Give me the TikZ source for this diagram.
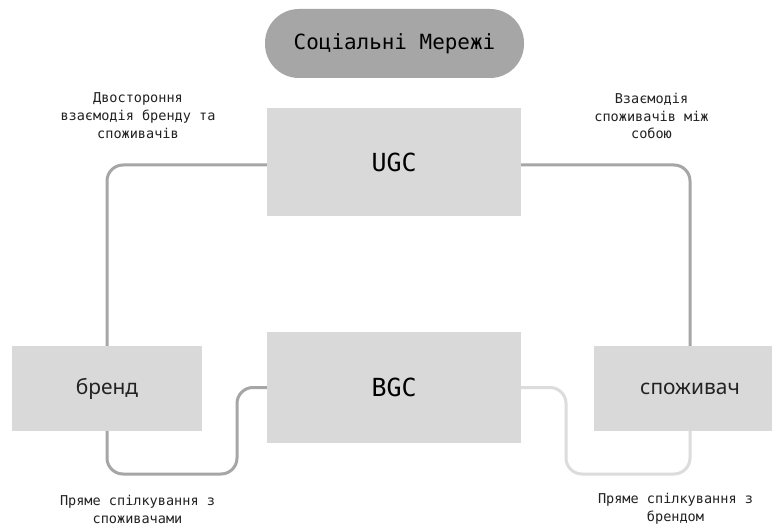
\documentclass[tikz,border=0pt]{standalone}
\usepackage{fontspec}
\setmainfont{DejaVu Sans Mono}
\newfontfamily\monof{DejaVu Sans Mono}
\newfontfamily\sansf{Noto Sans}
\definecolor{pillgray}{HTML}{A6A6A6}
\definecolor{boxgray}{HTML}{D9D9D9}
\definecolor{linedark}{HTML}{A6A6A6}
\definecolor{linelight}{HTML}{DCDCDC}
\definecolor{txt}{HTML}{222222}
\begin{document}
\begin{tikzpicture}[x=1bp,y=-1bp,
  boxnode/.style={fill=boxgray, draw=none, inner sep=0pt},
  pillnode/.style={fill=pillgray, draw=none, inner sep=0pt, rounded corners=34bp,
     minimum width=259bp, minimum height=69bp, font=\monof\fontsize{21}{25}\selectfont},
  bigmono/.style={font=\monof\fontsize{25}{30}\selectfont, text=black},
  sanslabel/.style={font=\sansf\fontsize{21}{25}\selectfont, text=txt},
  note/.style={font=\monof\fontsize{13.6}{18}\selectfont, text=txt, align=center, inner sep=0pt},
  conn/.style={line width=3bp, rounded corners=16bp},
]
\useasboundingbox (0,0) rectangle (772,527);
\clip (0,0) rectangle (772,527);
\fill[white] (0,0) rectangle (772,527);

\node[pillnode] (title) at (394.5,43.5) {Соціальні Мережі};
\node[boxnode, bigmono, minimum width=254bp, minimum height=108bp] (ugc) at (394,162) {UGC};
\node[boxnode, bigmono, minimum width=254bp, minimum height=111bp] (bgc) at (394,387.5) {BGC};
\node[boxnode, sanslabel, minimum width=190bp, minimum height=85bp] (brand) at (107,388.5) {бренд};
\node[boxnode, sanslabel, minimum width=192bp, minimum height=85bp] (consumer) at (690,388.5) {споживач};

\coordinate (c1) at (237,474);
\coordinate (c2) at (566,474);

\draw[conn, draw=linedark] (brand.north) |- ([yshift=-3bp]ugc.west);
\draw[conn, draw=linedark] ([yshift=-3bp]ugc.east) -| (consumer.north);
\draw[conn, draw=linedark] (brand.south) |- (c1) |- (bgc.west);
\draw[conn, draw=linelight] (bgc.east) -| (c2) -| (consumer.south);

\node[note] (n1) at (138,116) {Двостороння\\взаємодія бренду та\\споживачів};
\node[note] (n2) at (651.5,116) {Взаємодія\\споживачів між\\собою};
\node[note] (n3) at (137.5,509) {Пряме спілкування з\\споживачами};
\node[note] (n4) at (675.5,509) {Пряме спілкування з\\брендом};
\end{tikzpicture}
\end{document}
